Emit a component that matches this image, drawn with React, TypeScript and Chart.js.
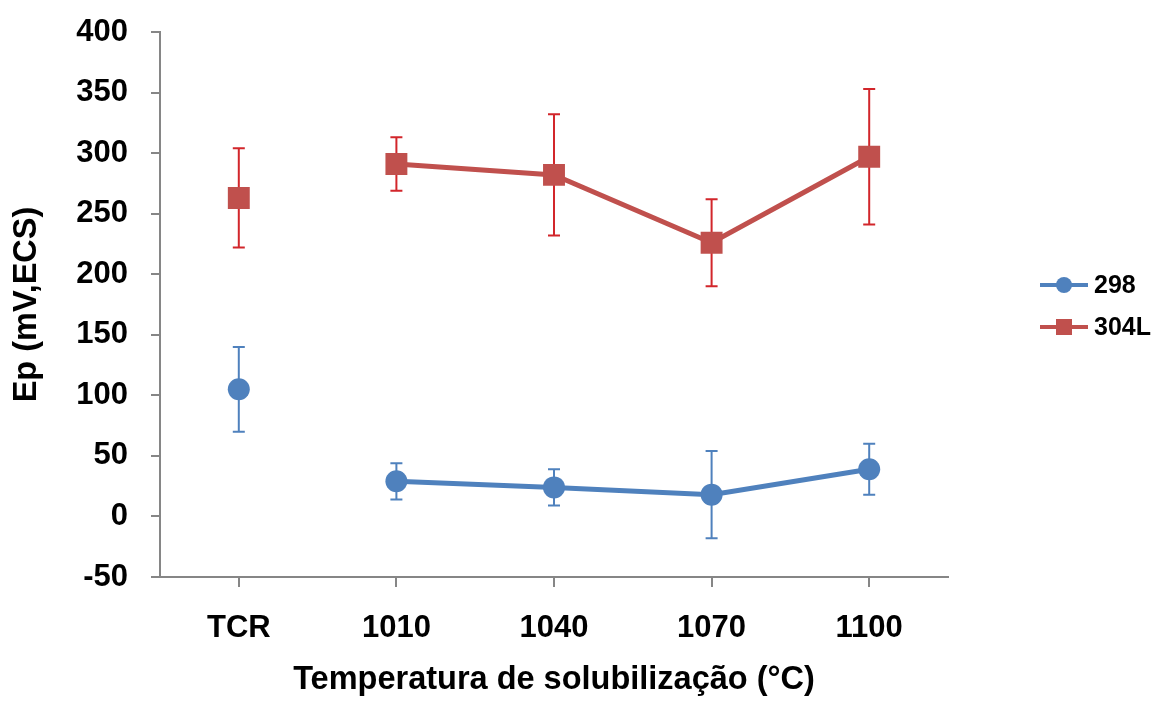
import React, { useEffect, useRef } from "react";
import { Chart, registerables } from "chart.js";

Chart.register(...registerables);

const categories = ["TCR", "1010", "1040", "1070", "1100"];
const series298 = [105, 29, 24, 18, 39];
const error298 = [35, 15, 15, 36, 21];
const series304L = [263, 291, 282, 226, 297];
const error304L = [41, 22, 50, 36, 56];
const yTicks = { min: -50, max: 400, step: 50 };

const BLUE = "#4F81BD";
const RED = "#C0504D";
const RED_ERR = "#D2262B";
const FONT = "'Liberation Sans', Arial, sans-serif";

const errorBarPlugin = {
  id: "errorBars",
  beforeDatasetsDraw(chart: any) {
    const { ctx } = chart;
    const y = chart.scales.y;
    chart.data.datasets.forEach((ds: any, di: number) => {
      const meta = chart.getDatasetMeta(di);
      ctx.save();
      ctx.strokeStyle = ds.errColor;
      ctx.lineWidth = 2;
      meta.data.forEach((pt: any, i: number) => {
        const v = ds.data[i];
        const e = ds.errors[i];
        const yt = y.getPixelForValue(v + e);
        const yb = y.getPixelForValue(v - e);
        const x = pt.x;
        ctx.beginPath();
        ctx.moveTo(x, yt);
        ctx.lineTo(x, yb);
        ctx.moveTo(x - 6, yt);
        ctx.lineTo(x + 6, yt);
        ctx.moveTo(x - 6, yb);
        ctx.lineTo(x + 6, yb);
        ctx.stroke();
      });
      ctx.restore();
    });
  },
};

const legendPlugin = {
  id: "customLegend",
  afterDraw(chart: any) {
    const { ctx } = chart;
    const items = [
      { label: "298", color: BLUE, shape: "circle", y: 285 },
      { label: "304L", color: RED, shape: "rect", y: 327 },
    ];
    items.forEach((it) => {
      ctx.save();
      ctx.strokeStyle = it.color;
      ctx.lineWidth = 4;
      ctx.beginPath();
      ctx.moveTo(1040, it.y);
      ctx.lineTo(1088, it.y);
      ctx.stroke();
      ctx.fillStyle = it.color;
      if (it.shape === "circle") {
        ctx.beginPath();
        ctx.arc(1064, it.y, 8, 0, Math.PI * 2);
        ctx.fill();
      } else {
        ctx.fillRect(1056, it.y - 8, 16, 16);
      }
      ctx.fillStyle = "#000";
      ctx.font = `bold 25px ${FONT}`;
      ctx.textBaseline = "middle";
      ctx.textAlign = "left";
      ctx.fillText(it.label, 1094, it.y + 1);
      ctx.restore();
    });
  },
};

export default function App() {
  const ref = useRef<HTMLCanvasElement | null>(null);

  useEffect(() => {
    document.body.style.margin = "0";
    if (!ref.current) return;
    const hide = (color: string) => (ctx: any) =>
      ctx.p0DataIndex === 0 ? "rgba(0,0,0,0)" : color;
    const chart = new Chart(ref.current, {
      type: "line",
      data: {
        labels: categories,
        datasets: [
          {
            label: "298",
            data: series298,
            errors: error298,
            errColor: BLUE,
            borderColor: BLUE,
            backgroundColor: BLUE,
            borderWidth: 5,
            pointStyle: "circle",
            pointRadius: 11,
            pointBorderWidth: 0,
            pointBackgroundColor: BLUE,
            segment: { borderColor: hide(BLUE) },
          } as any,
          {
            label: "304L",
            data: series304L,
            errors: error304L,
            errColor: RED_ERR,
            borderColor: RED,
            backgroundColor: RED,
            borderWidth: 5,
            pointStyle: "rect",
            pointRadius: 15.5,
            pointBorderWidth: 0,
            pointBackgroundColor: RED,
            segment: { borderColor: hide(RED) },
          } as any,
        ],
      },
      options: {
        animation: false,
        responsive: true,
        maintainAspectRatio: false,
        layout: { padding: { top: 32, right: 211, left: 0, bottom: 0 } },
        plugins: { legend: { display: false }, tooltip: { enabled: false } },
        scales: {
          x: {
            offset: true,
            grid: {
              offset: false,
              drawOnChartArea: false,
              drawTicks: true,
              tickLength: 10,
              color: "#868686",
              lineWidth: 2,
            },
            border: { color: "#868686", width: 2 },
            ticks: {
              color: "#000",
              padding: 23,
              font: { family: FONT, size: 31, weight: "bold" },
            },
            title: {
              display: true,
              text: "Temperatura de solubilização (°C)",
              color: "#000",
              padding: { top: 0, bottom: 2 },
              font: { family: FONT, size: 32.5, weight: "bold" },
            },
            afterFit: (s: any) => {
              s.height = 125;
              s.paddingLeft = 0;
              s.paddingRight = 0;
            },
          },
          y: {
            min: yTicks.min,
            max: yTicks.max,
            ticks: {
              stepSize: yTicks.step,
              color: "#000",
              padding: 23,
              font: { family: FONT, size: 31, weight: "bold" },
            },
            grid: {
              drawOnChartArea: false,
              drawTicks: true,
              tickLength: 9,
              color: "#868686",
              lineWidth: 2,
            },
            border: { color: "#868686", width: 2 },
            title: {
              display: true,
              text: "Ep (mV,ECS)",
              color: "#000",
              padding: { top: 8, bottom: 0 },
              font: { family: FONT, size: 32.5, weight: "bold" },
            },
            afterFit: (s: any) => {
              s.width = 160;
              s.paddingTop = 0;
              s.paddingBottom = 0;
            },
          },
        },
      } as any,
      plugins: [errorBarPlugin, legendPlugin],
    });
    return () => chart.destroy();
  }, []);

  return (
    <div style={{ position: "absolute", left: 0, top: 0, width: 1159, height: 702, background: "#fff" }}>
      <canvas ref={ref} />
    </div>
  );
}
